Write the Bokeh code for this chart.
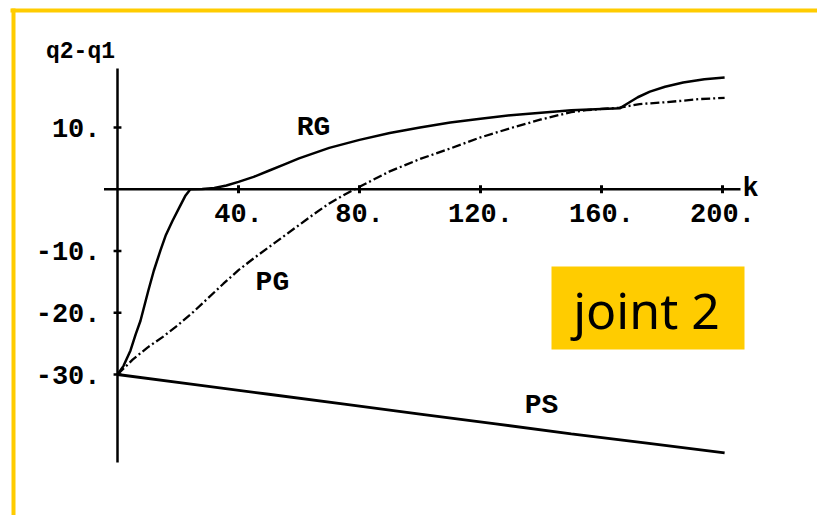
from bokeh.plotting import figure
from bokeh.models import Range1d
from bokeh.core.properties import value
from bokeh.embed import file_html
from bokeh.resources import INLINE

# ---- data -------------------------------------------------------------
rg_k = [0, 2, 4.3, 6, 7.6, 10.2, 12, 14.2, 16, 18.2, 20.5, 22.5, 24.1, 28, 32, 36,
        40, 45, 50, 55, 60, 70, 80, 90, 100, 110, 120, 130, 140, 150, 160, 166,
        169, 172, 176, 181, 187, 194, 200.7]
rg_q = [-30, -28.6, -26.1, -23.5, -21.3, -16.4, -13.2, -9.9, -7.4, -5.1, -2.9,
        -1.0, 0, 0.05, 0.2, 0.6, 1.2, 2.0, 3.0, 4.0, 5.0, 6.7, 8.0, 9.1, 10.0, 10.8,
        11.4, 12.0, 12.4, 12.8, 13.0, 13.1, 14.0, 14.9, 15.8, 16.6, 17.3, 17.8, 18.1]

pg_k = [0, 5, 10, 15, 20, 25, 30, 35, 40, 45, 50, 55, 60, 65, 70, 75, 80, 90, 100,
        110, 120, 130, 140, 150, 155, 160, 166, 172.6, 181.5, 192.4, 200.7]
pg_q = [-30, -27.6, -25.6, -23.9, -22.0, -19.9, -17.6, -15.3, -13.1, -11.2, -9.4,
        -7.6, -5.8, -4.0, -2.3, -0.9, 0.4, 2.9, 4.9, 6.6, 8.4, 9.9, 11.3, 12.5, 12.8,
        13.0, 13.2, 13.8, 14.1, 14.6, 14.8]

ps_k = [0, 25, 50, 75, 100, 125, 150, 175, 200.7]
ps_q = [-30, -31.6, -33.2, -34.8, -36.4, -38.0, -39.6, -41.1, -42.7]

x_ticks = [40, 80, 120, 160, 200]
y_ticks = [10, -10, -20, -30]
x_tick_labels = [f"{t}." for t in x_ticks]
y_tick_labels = [f"{t}." for t in y_ticks]

curve_names = ["RG", "PG", "PS"]
curve_label_k = [64.8, 51.2, 140.2]
curve_label_q = [10.0, -15.1, -35.0]

# ---- canvas geometry (pixels) -----------------------------------------
W, H = 817, 515
ORIGIN_X, ORIGIN_Y = 117.0, 188.75     # pixel position of (k=0, q=0)
PX_PER_K, PX_PER_Q = 3.025, 6.175


def kx(px):
    return (px - ORIGIN_X) / PX_PER_K


def qy(py):
    return (ORIGIN_Y - py) / PX_PER_Q


YELLOW = "#FFCC00"
MONO = value("Liberation Mono")

p = figure(width=W, height=H, output_backend="svg", toolbar_location=None,
           x_axis_location=None, y_axis_location=None,
           x_range=Range1d(kx(0), kx(W)), y_range=Range1d(qy(H), qy(0)),
           min_border=0, outline_line_color=None)
p.grid.visible = False
p.background_fill_color = "white"
p.border_fill_color = "white"

# yellow slide frame (top and left edges) and the caption box
p.quad(left=[kx(10), kx(11)], right=[kx(W + 5), kx(15)],
       top=[qy(8), qy(8)], bottom=[qy(12), qy(H + 5)],
       fill_color=YELLOW, line_color=None)
p.quad(left=[kx(551)], right=[kx(744)], top=[qy(266)], bottom=[qy(349)],
       fill_color=YELLOW, line_color=None)
p.text(x=[kx(646)], y=[qy(309)], text=["joint 2"], text_font=value("Noto Sans"),
       text_font_size="50px", text_align="center", text_baseline="middle",
       text_color="black")

# axes through the origin
p.line([kx(103.5), kx(740)], [0, 0], line_color="black", line_width=2.5)
p.line([0, 0], [qy(68), qy(462)], line_color="black", line_width=2.5)
p.segment(x0=x_ticks, x1=x_ticks, y0=[-0.65] * len(x_ticks), y1=[0.65] * len(x_ticks),
          line_color="black", line_width=3)
p.segment(x0=[-1.3] * len(y_ticks), x1=[1.3] * len(y_ticks), y0=y_ticks, y1=y_ticks,
          line_color="black", line_width=2.5)

# tick labels
p.text(x=x_ticks, y=[0] * len(x_ticks), text=x_tick_labels, text_font=MONO,
       text_font_style="bold", text_font_size="27px", text_align="center",
       text_baseline="middle", y_offset=24, text_color="black")
p.text(x=[kx(100)] * len(y_ticks), y=y_ticks, text=y_tick_labels, text_font=MONO,
       text_font_style="bold", text_font_size="27px", text_align="right",
       text_baseline="middle", text_color="black")

# axis titles
p.text(x=[kx(80)], y=[qy(51)], text=["q2-q1"], text_font=MONO,
       text_font_style="bold", text_font_size="23px", text_align="center",
       text_baseline="middle", text_color="black")
p.text(x=[kx(742)], y=[0], text=["k"], text_font=MONO, text_font_style="bold",
       text_font_size="27px", text_align="left", text_baseline="middle",
       text_color="black")

# curves
p.line(ps_k, ps_q, line_color="black", line_width=2.8)
p.line(pg_k, pg_q, line_color="black", line_width=2.3, line_dash="9 3 2 3")
p.line(rg_k, rg_q, line_color="black", line_width=2.5)

# curve names
p.text(x=curve_label_k, y=curve_label_q, text=curve_names, text_font=MONO,
       text_font_style="bold", text_font_size="28px", text_align="center",
       text_baseline="middle", text_color="black")

open("out.html", "w").write(file_html(p, INLINE))
